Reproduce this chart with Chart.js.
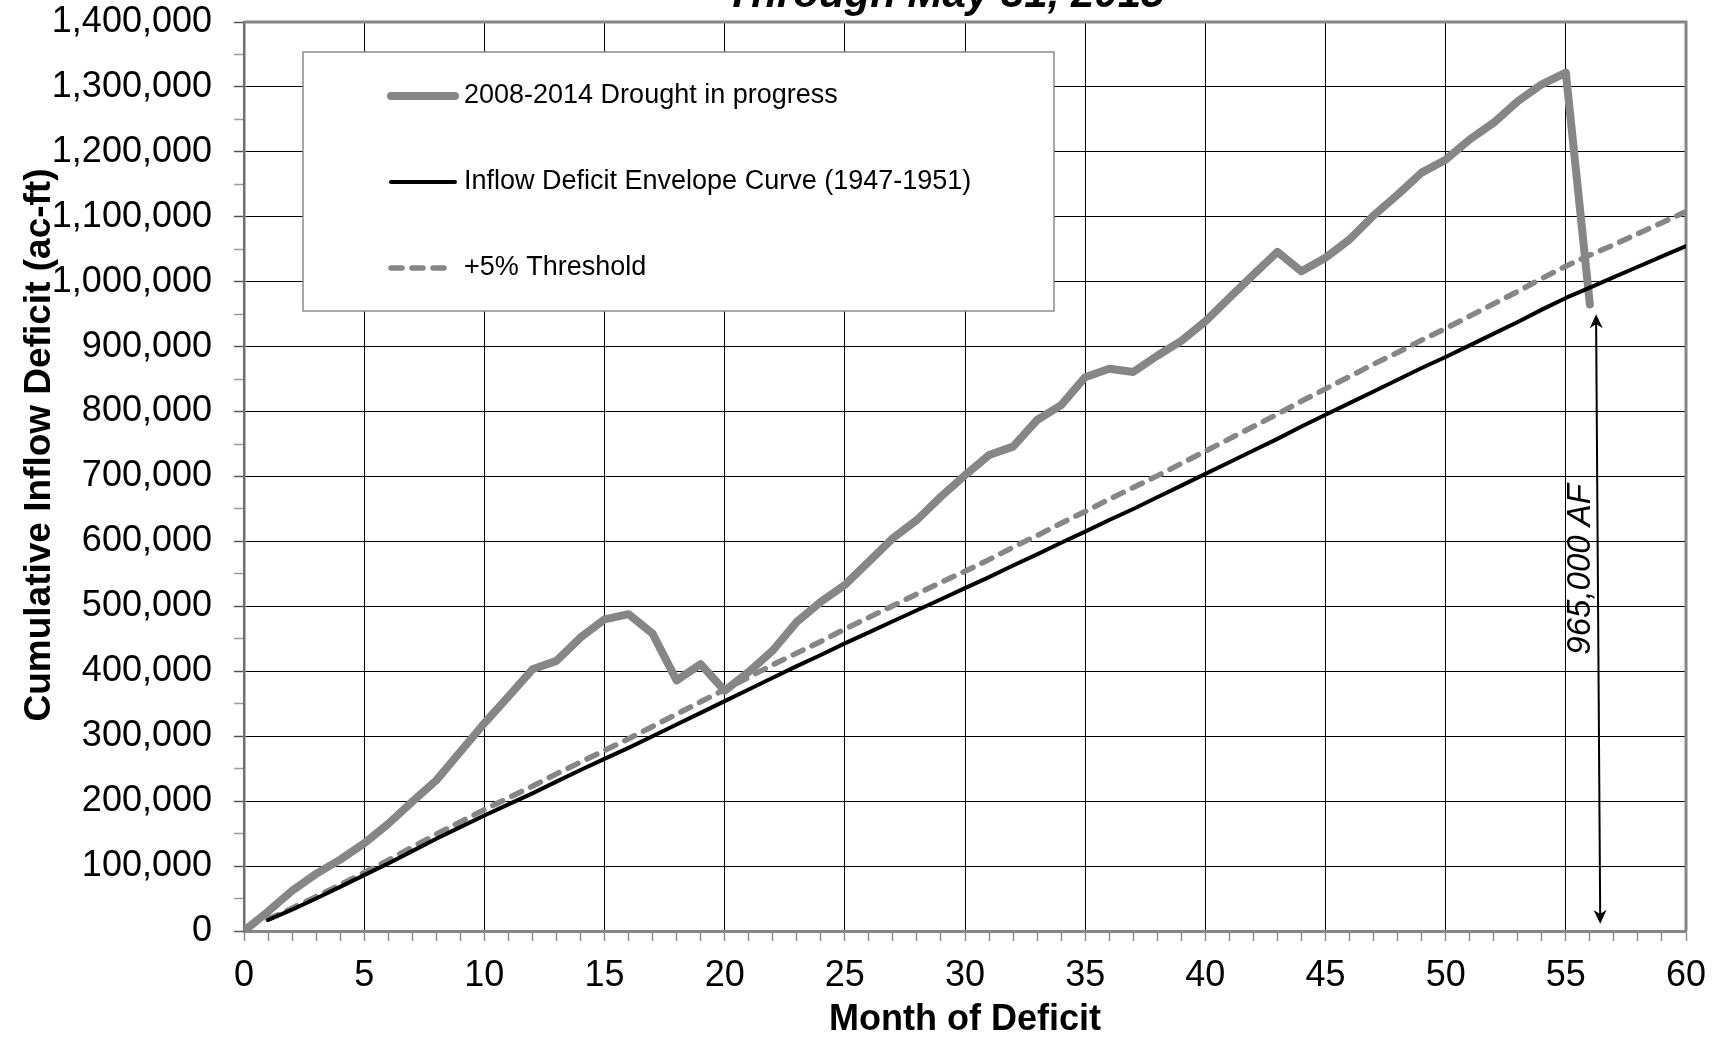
<!DOCTYPE html>
<html>
<head>
<meta charset="utf-8">
<title>Cumulative Inflow Deficit</title>
<script src="https://cdn.jsdelivr.net/npm/chart.js@4.4.1/dist/chart.umd.min.js"></script>
<style>
    html, body { margin: 0; padding: 0; background: #fff; }
    #deficitChart { display: block; }
</style>
</head>
<body>
<canvas id="deficitChart" width="1722" height="1055"></canvas>
<script>
// Data (ac-ft)
const droughtMonths = [0, 1, 2, 3, 4, 5, 6, 7, 8, 9, 10, 11, 12, 13, 14, 15, 16, 17, 18, 19, 20,
    21, 22, 23, 24, 25, 26, 27, 28, 29, 30, 31, 32, 33, 34, 35, 36, 37, 38, 39, 40,
    41, 42, 43, 44, 45, 46, 47, 48, 49, 50, 51, 52, 53, 54, 55, 56];
const droughtDeficit = [0, 30000, 62000, 88000, 110000, 135000, 165000, 199000, 232000, 276000, 320000,
    361000, 403000, 416000, 452000, 480000, 488000, 458000, 386000, 411000, 370000,
    399000, 432000, 476000, 507000, 533000, 569000, 605000, 633000, 669000, 702000,
    733000, 746000, 787000, 810000, 853000, 866000, 861000, 886000, 909000, 939000,
    975000, 1011000, 1046000, 1016000, 1037000, 1065000, 1102000, 1134000, 1168000, 1188000,
    1219000, 1245000, 1278000, 1304000, 1322000, 965000];

const envelopeMonths = [1, 2, 3, 4, 5, 6, 7, 8, 9, 10, 11, 12, 13, 14, 15, 16, 17, 18, 19, 20,
    21, 22, 23, 24, 25, 26, 27, 28, 29, 30, 31, 32, 33, 34, 35, 36, 37, 38, 39, 40,
    41, 42, 43, 44, 45, 46, 47, 48, 49, 50, 51, 52, 53, 54, 55, 56, 57, 58, 59, 60];
const envelopeDeficit = [17000, 33000, 50000, 68000, 86000, 104000, 123000, 142000, 160000, 178000,
    195000, 212000, 230000, 248000, 265000, 282000, 300000, 318000, 336000, 354000,
    372000, 390000, 408000, 425000, 443000, 460000, 477000, 494000, 511000, 528000,
    545000, 563000, 580000, 598000, 615000, 633000, 650000, 668000, 686000, 704000,
    722000, 740000, 758000, 777000, 795000, 813000, 831000, 849000, 867000, 884000,
    902000, 920000, 938000, 957000, 975000, 991000, 1007000, 1023000, 1039000, 1055000];
const thresholdDeficit = [18000, 35000, 53000, 71000, 90000, 109000, 129000, 149000, 168000, 187000,
    205000, 223000, 242000, 260000, 278000, 296000, 315000, 334000, 353000, 372000,
    391000, 410000, 428000, 446000, 465000, 483000, 501000, 519000, 537000, 554000,
    572000, 591000, 609000, 628000, 646000, 665000, 683000, 701000, 720000, 739000,
    758000, 777000, 796000, 816000, 835000, 854000, 873000, 891000, 910000, 928000,
    947000, 966000, 985000, 1005000, 1024000, 1041000, 1057000, 1074000, 1091000, 1108000];

const seriesLabels = ['2008-2014 Drought in progress', 'Inflow Deficit Envelope Curve (1947-1951)', '+5% Threshold'];

// Axis ranges
const monthMin = 0, monthMax = 60, monthStep = 1, monthLabelEvery = 5;
const deficitMin = 0, deficitMax = 1400000, deficitStep = 50000, deficitLabelEvery = 100000;

// Text
const chartTitle = 'Through May 31, 2015';
const xTitle = 'Month of Deficit';
const yTitle = 'Cumulative Inflow Deficit (ac-ft)';
const noteText = '965,000 AF';
const noteAt = [56, 557000];
const arrowTop = [56.26, 950000];
const arrowBottom = [56.43, 11000];

const FONT = "'Liberation Sans', Arial, Helvetica, sans-serif";
const GRAY = '#868686';

const toPoints = (xs, ys) => xs.map((x, i) => ({ x: x, y: ys[i] }));

// Plot frame on top and right (Excel style)
const plotFrame = {
    id: 'plotFrame',
    beforeDatasetsDraw(chart) {
        const { ctx, chartArea: a } = chart;
        ctx.save();
        ctx.strokeStyle = GRAY;
        ctx.lineWidth = 3;
        ctx.beginPath();
        ctx.moveTo(a.left, a.top);
        ctx.lineTo(a.right, a.top);
        ctx.lineTo(a.right, a.bottom);
        ctx.stroke();
        ctx.restore();
    }
};

// Boxed legend inside the plot area
const boxedLegend = {
    id: 'boxedLegend',
    afterDatasetsDraw(chart) {
        const ctx = chart.ctx;
        ctx.save();
        ctx.fillStyle = '#fff';
        ctx.fillRect(303, 52, 751, 259);
        ctx.strokeStyle = '#8c8c8c';
        ctx.lineWidth = 1.5;
        ctx.strokeRect(303, 52, 751, 259);
        chart.data.datasets.forEach((ds, i) => {
            const y = 96 + i * 86;
            ctx.beginPath();
            ctx.strokeStyle = ds.borderColor;
            ctx.lineWidth = ds.borderWidth;
            ctx.lineCap = 'round';
            ctx.setLineDash(ds.borderDash || []);
            ctx.moveTo(391, y);
            ctx.lineTo(ds.borderDash ? 446 : 455, y);
            ctx.stroke();
            ctx.setLineDash([]);
            ctx.fillStyle = '#000';
            ctx.font = '27px ' + FONT;
            ctx.textAlign = 'left';
            ctx.textBaseline = 'middle';
            ctx.fillText(ds.label, 464, y);
        });
        ctx.restore();
    }
};

// Double arrow and rotated note
function drawHead(ctx, tip, from) {
    const dx = from.x - tip.x, dy = from.y - tip.y;
    const len = Math.hypot(dx, dy);
    const ux = dx / len, uy = dy / len;
    const nx = -uy, ny = ux;
    const L = 14, W = 6.5;
    ctx.beginPath();
    ctx.moveTo(tip.x, tip.y);
    ctx.lineTo(tip.x + ux * L + nx * W, tip.y + uy * L + ny * W);
    ctx.lineTo(tip.x + ux * L * 0.7, tip.y + uy * L * 0.7);
    ctx.lineTo(tip.x + ux * L - nx * W, tip.y + uy * L - ny * W);
    ctx.closePath();
    ctx.fill();
}

const deficitNote = {
    id: 'deficitNote',
    afterDatasetsDraw(chart) {
        const { ctx, scales: { x, y } } = chart;
        const top = { x: x.getPixelForValue(arrowTop[0]), y: y.getPixelForValue(arrowTop[1]) };
        const bottom = { x: x.getPixelForValue(arrowBottom[0]), y: y.getPixelForValue(arrowBottom[1]) };
        ctx.save();
        ctx.strokeStyle = '#000';
        ctx.fillStyle = '#000';
        ctx.lineWidth = 2;
        ctx.beginPath();
        ctx.moveTo(top.x, top.y + 8);
        ctx.lineTo(bottom.x, bottom.y - 8);
        ctx.stroke();
        drawHead(ctx, top, bottom);
        drawHead(ctx, bottom, top);

        ctx.translate(x.getPixelForValue(noteAt[0]), y.getPixelForValue(noteAt[1]));
        ctx.rotate(-Math.PI / 2);
        ctx.font = 'italic 33px ' + FONT;
        ctx.textAlign = 'center';
        ctx.textBaseline = 'alphabetic';
        ctx.fillText(noteText, 0, 0);
        ctx.restore();
    }
};

// Cropped chart title and y axis title
const chartTexts = {
    id: 'chartTexts',
    afterDraw(chart) {
        const ctx = chart.ctx;
        ctx.save();
        ctx.fillStyle = '#000';
        ctx.font = 'italic bold 42px ' + FONT;
        ctx.textAlign = 'center';
        ctx.textBaseline = 'alphabetic';
        ctx.fillText(chartTitle, 945, 7);

        ctx.translate(50, 445);
        ctx.rotate(-Math.PI / 2);
        ctx.font = 'bold 37px ' + FONT;
        ctx.fillText(yTitle, 0, 0);
        ctx.restore();
    }
};

Chart.defaults.font.family = FONT;
Chart.defaults.color = '#000';

new Chart(document.getElementById('deficitChart').getContext('2d'), {
    type: 'line',
    data: {
        datasets: [{
            label: seriesLabels[0],
            data: toPoints(droughtMonths, droughtDeficit),
            borderColor: GRAY,
            borderWidth: 8,
            borderCapStyle: 'round',
            borderJoinStyle: 'round',
            pointRadius: 0,
            tension: 0,
            fill: false,
            order: 1
        }, {
            label: seriesLabels[1],
            data: toPoints(envelopeMonths, envelopeDeficit),
            borderColor: '#000',
            borderWidth: 4,
            borderCapStyle: 'round',
            borderJoinStyle: 'round',
            pointRadius: 0,
            tension: 0,
            fill: false,
            order: 0
        }, {
            label: seriesLabels[2],
            data: toPoints(envelopeMonths, thresholdDeficit),
            borderColor: GRAY,
            borderWidth: 5.5,
            borderDash: [11, 10],
            borderCapStyle: 'round',
            pointRadius: 0,
            tension: 0,
            fill: false,
            order: 2
        }]
    },
    options: {
        responsive: false,
        animation: false,
        devicePixelRatio: 1,
        layout: { padding: { top: 22, right: 36, left: 0, bottom: 0 } },
        plugins: {
            legend: { display: false },
            title: { display: false },
            tooltip: { enabled: false }
        },
        scales: {
            x: {
                type: 'linear',
                min: monthMin,
                max: monthMax,
                afterFit: scale => {
                    scale.height = 124;
                    scale.paddingLeft = 0;
                    scale.paddingRight = 0;
                },
                ticks: {
                    stepSize: monthStep,
                    autoSkip: false,
                    maxRotation: 0,
                    padding: 13,
                    font: { size: 36 },
                    color: '#000',
                    callback: v => (v % monthLabelEvery === 0 ? String(v) : '')
                },
                grid: {
                    color: c => (c.tick && c.tick.value % monthLabelEvery === 0 ? '#000' : 'transparent'),
                    lineWidth: 1,
                    tickLength: 10,
                    tickColor: '#8c8c8c',
                    tickWidth: 1.5
                },
                border: { color: GRAY, width: 3 },
                title: {
                    display: true,
                    text: xTitle,
                    font: { size: 36, weight: 'bold' },
                    color: '#000',
                    padding: { top: 0, bottom: 13 }
                }
            },
            y: {
                type: 'linear',
                min: deficitMin,
                max: deficitMax,
                afterFit: scale => {
                    scale.width = 244;
                    scale.paddingTop = 0;
                    scale.paddingBottom = 0;
                },
                ticks: {
                    stepSize: deficitStep,
                    autoSkip: false,
                    padding: 22,
                    font: { size: 36 },
                    color: '#000',
                    callback: v => (v % deficitLabelEvery === 0 ? v.toLocaleString('en-US') : '')
                },
                grid: {
                    color: c => (c.tick && c.tick.value % deficitLabelEvery === 0 ? '#000' : 'transparent'),
                    lineWidth: 1,
                    tickLength: 10,
                    tickColor: c => (c.tick && c.tick.value % deficitLabelEvery === 0 ? '#555' : '#9a9a9a'),
                    tickWidth: 1.5
                },
                border: { color: '#6e6e6e', width: 2.5 }
            }
        }
    },
    plugins: [plotFrame, boxedLegend, deficitNote, chartTexts]
});
</script>
</body>
</html>
